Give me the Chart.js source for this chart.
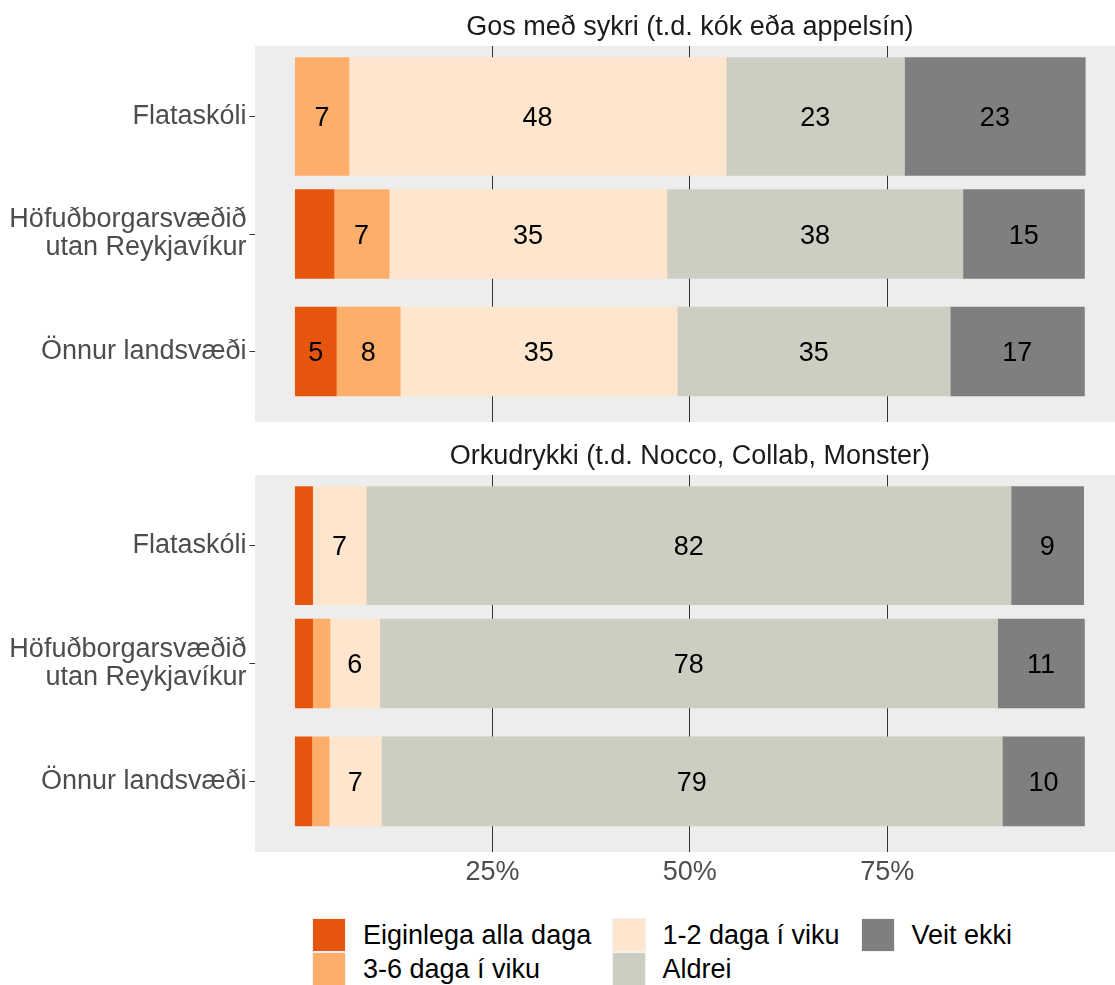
<!DOCTYPE html>
<html>
<head>
<meta charset="utf-8">
<script src="https://cdn.jsdelivr.net/npm/chart.js@4.4.1/dist/chart.umd.min.js"></script>
<style>
  html, body { margin: 0; padding: 0; background: #fff; overflow: hidden; }
  #wrap { position: relative; width: 1115px; height: 985px; font-family: "Liberation Sans", Arial, Helvetica, sans-serif; }
  canvas { position: absolute; left: 0; }
  #c1 { top: 0; }
  #c2 { top: 429px; }
  .lg-item { position: absolute; height: 34px; display: flex; align-items: center; }
  .lg-key { width: 32px; height: 32px; border: 1px solid #F2F2F2; box-sizing: content-box; }
  .lg-text { margin-left: 17px; font-size: 27px; color: #000; white-space: nowrap; line-height: 34px; }
</style>
</head>
<body>
<div id="wrap">
  <canvas id="c1" width="1115" height="450"></canvas>
  <canvas id="c2" width="1115" height="470"></canvas>
  <div id="legend"></div>
</div>
<script>
// ---------- DATA ----------
const categories = ['Eiginlega alla daga', '3-6 daga í viku', '1-2 daga í viku', 'Aldrei', 'Veit ekki'];
const colors = ['#E6550D', '#FDAE6B', '#FEE6CE', '#CDCDC1', '#7F7F7F'];
const regions = [['Flataskóli'], ['Höfuðborgarsvæðið', 'utan Reykjavíkur'], ['Önnur landsvæði']];
const panelTitles = ['Gos með sykri (t.d. kók eða appelsín)', 'Orkudrykki (t.d. Nocco, Collab, Monster)'];

// Percentages per region: [Flataskóli, Höfuðborgarsvæðið utan Reykjavíkur, Önnur landsvæði]
const gosEiginlega = [0, 4.9, 5.2];
const gos36 = [6.8, 7.0, 8.1];
const gos12 = [47.8, 35.2, 35.1];
const gosAldrei = [22.6, 37.5, 34.6];
const gosVeit = [22.9, 15.4, 17.0];

const orkEiginlega = [2.2, 2.2, 2.1];
const ork36 = [0, 2.2, 2.2];
const ork12 = [6.8, 6.3, 6.6];
const orkAldrei = [81.7, 78.3, 78.7];
const orkVeit = [9.2, 11.0, 10.4];

const xTicks = [25, 50, 75];
const xTickLabels = ['25%', '50%', '75%'];
const labelMin = 5;

// ---------- BUILD ----------
const FONT = '"Liberation Sans", Arial, Helvetica, sans-serif';
const FS = 27;
const rowGroups = [{ rows: [0], thickness: 118 }, { rows: [1, 2], thickness: 89 }];

function buildDatasets(series) {
  const out = [];
  rowGroups.forEach((g) => {
    series.forEach((vals, c) => {
      out.push({
        label: categories[c],
        backgroundColor: colors[c],
        borderWidth: 0,
        barThickness: g.thickness,
        data: g.rows.filter(r => vals[r] > 0).map(r => ({ x: vals[r], y: r + 1 }))
      });
    });
  });
  return out;
}

const panelBg = {
  id: 'panelBg',
  beforeDraw(chart) {
    const a = chart.chartArea, ctx = chart.ctx;
    ctx.save();
    ctx.fillStyle = '#EDEDED';
    ctx.fillRect(a.left, a.top, a.right - a.left, a.bottom - a.top);
    ctx.restore();
  }
};

const valueLabels = {
  id: 'valueLabels',
  afterDatasetsDraw(chart) {
    const ctx = chart.ctx;
    ctx.save();
    ctx.font = FS + 'px ' + FONT;
    ctx.fillStyle = '#000';
    ctx.textAlign = 'center';
    ctx.textBaseline = 'alphabetic';
    chart.data.datasets.forEach((ds, i) => {
      const meta = chart.getDatasetMeta(i);
      meta.data.forEach((el, j) => {
        const v = ds.data[j].x;
        if (v < labelMin) return;
        const p = el.getProps(['x', 'base', 'y'], true);
        ctx.fillText(String(Math.round(v)), (p.x + p.base) / 2, p.y + 9.7);
      });
    });
    ctx.restore();
  }
};

const stripTitle = {
  id: 'stripTitle',
  afterDraw(chart, args, opts) {
    const ctx = chart.ctx;
    ctx.save();
    ctx.font = FS + 'px ' + FONT;
    ctx.fillStyle = '#1A1A1A';
    ctx.textAlign = 'center';
    ctx.textBaseline = 'alphabetic';
    ctx.fillText(opts.text, chart.scales.x.getPixelForValue(50), chart.chartArea.top - 11.5);
    ctx.restore();
  }
};

function makeChart(id, series, title, showX) {
  return new Chart(document.getElementById(id), {
    type: 'bar',
    data: { labels: [], datasets: buildDatasets(series) },
    plugins: [panelBg, valueLabels, stripTitle],
    options: {
      indexAxis: 'y',
      responsive: false,
      animation: false,
      devicePixelRatio: 1,
      layout: { padding: { top: 46, bottom: showX ? 7 : 8, left: 0, right: 0 } },
      plugins: {
        legend: { display: false },
        tooltip: { enabled: false },
        stripTitle: { text: title }
      },
      scales: {
        x: {
          type: 'linear', min: -5.1, max: 103.87, stacked: true, offset: false,
          afterBuildTicks: s => { s.ticks = xTicks.map(v => ({ value: v })); },
          afterFit: s => { s.height = showX ? 40 : 20; },
          ticks: {
            display: showX, autoSkip: false, maxRotation: 0, padding: 4,
            color: '#4D4D4D', font: { family: FONT, size: FS },
            callback: v => xTickLabels[xTicks.indexOf(v)]
          },
          grid: { color: '#333333', lineWidth: 1, drawTicks: false, offset: false },
          border: { display: false }
        },
        y: {
          type: 'linear', reverse: true, min: 0.4, max: 3.6, stacked: true, offset: false,
          afterBuildTicks: s => { s.ticks = regions.map((_, i) => ({ value: i + 1 })); },
          afterFit: s => { s.width = 255; },
          ticks: {
            autoSkip: false, padding: 3, color: '#4D4D4D',
            font: { family: FONT, size: FS, lineHeight: 1.04 },
            callback: v => regions[v - 1]
          },
          grid: { drawOnChartArea: false, drawTicks: true, offset: false, tickLength: 5.5, tickColor: '#333333', tickWidth: 1 },
          border: { display: false }
        }
      }
    }
  });
}

makeChart('c1', [gosEiginlega, gos36, gos12, gosAldrei, gosVeit], panelTitles[0], false);
makeChart('c2', [orkEiginlega, ork36, ork12, orkAldrei, orkVeit], panelTitles[1], true);

// ---------- LEGEND (HTML, column-major, 2 rows) ----------
const legendCols = [312, 611.5, 860.5];
const legendRows = [918, 952];
const lg = document.getElementById('legend');
categories.forEach((name, i) => {
  const col = Math.floor(i / 2), row = i % 2;
  const item = document.createElement('div');
  item.className = 'lg-item';
  item.style.left = legendCols[col] + 'px';
  item.style.top = legendRows[row] + 'px';
  const key = document.createElement('div');
  key.className = 'lg-key';
  key.style.background = colors[i];
  const txt = document.createElement('span');
  txt.className = 'lg-text';
  txt.textContent = name;
  item.appendChild(key);
  item.appendChild(txt);
  lg.appendChild(item);
});
</script>
</body>
</html>
